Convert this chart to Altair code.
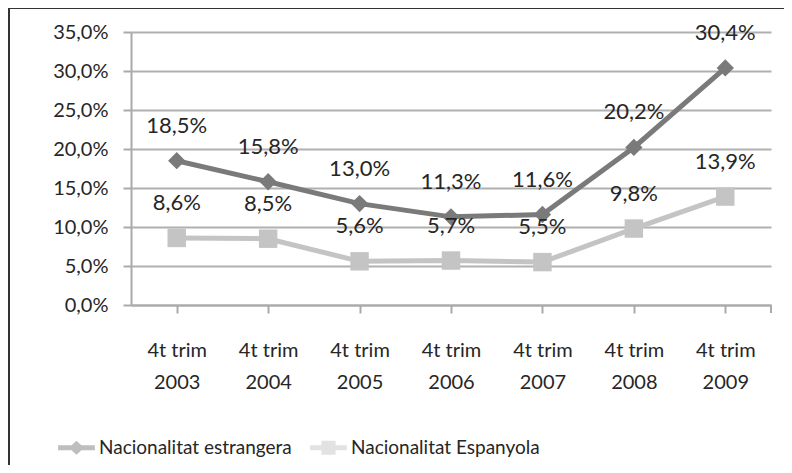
import altair as alt
import pandas as pd

periods = ["4t trim 2003", "4t trim 2004", "4t trim 2005", "4t trim 2006",
           "4t trim 2007", "4t trim 2008", "4t trim 2009"]
estrangera = [18.5, 15.8, 13.0, 11.3, 11.6, 20.2, 30.4]
espanyola = [8.6, 8.5, 5.6, 5.7, 5.5, 9.8, 13.9]
series_names = ["Nacionalitat estrangera", "Nacionalitat Espanyola"]
series_colors = ["#7a7a7a", "#c4c4c4"]
series_shapes = ["diamond", "square"]
y_ticks = [0, 5, 10, 15, 20, 25, 30, 35]

rows = []
for name, vals in zip(series_names, [estrangera, espanyola]):
    for p, v in zip(periods, vals):
        rows.append({"periode": p, "valor": v, "serie": name})
df = pd.DataFrame(rows)

FONT = "Lato"
TXT = "#262626"
W, H = 640, 273

x_enc = alt.X("periode:N", sort=periods, title=None,
              scale=alt.Scale(paddingInner=0, paddingOuter=0),
              axis=alt.Axis(labelAngle=0, bandPosition=0, tickSize=8,
                            labelPadding=27, labelLineHeight=32,
                            labelBaseline="top",
                            labelFont=FONT, labelFontSize=20, labelColor=TXT,
                            labelExpr="[slice(datum.label,0,7), slice(datum.label,8)]",
                            domainColor="#aaaaaa", tickColor="#aaaaaa",
                            domainWidth=2, tickWidth=2, grid=False))
y_enc = alt.Y("valor:Q", title=None,
              scale=alt.Scale(domain=[0, 35], nice=False),
              axis=alt.Axis(values=y_ticks, tickSize=8, labelPadding=15,
                            labelFont=FONT, labelFontSize=20, labelColor=TXT,
                            labelExpr="replace(format(datum.value, '.1f'), '.', ',') + '%'",
                            domainColor="#aaaaaa", tickColor="#aaaaaa",
                            domainWidth=2, tickWidth=2,
                            grid=True, gridColor="#b0b0b0", gridWidth=2))

base = alt.Chart(df)

series_layers = []
for name, col, shp in zip(series_names, series_colors, series_shapes):
    sub = base.transform_filter(alt.datum.serie == name)
    series_layers.append(sub.mark_line(strokeWidth=5, color=col).encode(x=x_enc, y=y_enc))
for name, col, shp in zip(series_names, series_colors, series_shapes):
    sub = base.transform_filter(alt.datum.serie == name)
    series_layers.append(sub.mark_point(shape=shp, filled=True, color=col, opacity=1,
                                        size=300 if shp == "diamond" else 340)
                         .encode(x=x_enc, y=y_enc))

labels = base.mark_text(dy=-35, fontSize=22, font=FONT, color=TXT).encode(
    x=x_enc, y=y_enc,
    text=alt.Text("label:N"),
).transform_calculate(
    label="replace(format(datum.valor, '.1f'), '.', ',') + '%'"
)

diamond_path = ("M-2.6,-0.35 L-0.7,-0.35 L0,-1 L0.7,-0.35 L2.6,-0.35 L2.6,0.35 "
                "L0.7,0.35 L0,1 L-0.7,0.35 L-2.6,0.35 Z")
square_path = ("M-2.6,-0.35 L-1,-0.35 L-1,-1 L1,-1 L1,-0.35 L2.6,-0.35 L2.6,0.35 "
               "L1,0.35 L1,1 L-1,1 L-1,0.35 L-2.6,0.35 Z")

legend_layer = base.transform_filter(alt.datum.valor < 0).mark_point(
    filled=True).encode(
    x=x_enc, y=y_enc,
    fill=alt.Fill("serie:N", scale=alt.Scale(domain=series_names, range=series_colors),
                  title=None,
                  legend=alt.Legend(orient="none", direction="horizontal",
                                    legendX=-64, legendY=406,
                                    symbolSize=200, symbolOpacity=1,
                                    symbolStrokeWidth=0,
                                    labelFontSize=19, labelFont=FONT,
                                    labelColor=TXT, labelOffset=13,
                                    columnPadding=18, labelLimit=400)),
    shape=alt.Shape("serie:N",
                    scale=alt.Scale(domain=series_names,
                                    range=[diamond_path, square_path])),
)

one = pd.DataFrame({"k": [0]})
border = alt.Chart(one).mark_rule(color="#333333", strokeWidth=2).encode(
    x=alt.value(-122), x2=alt.value(-122),
    y=alt.value(-24), y2=alt.value(H + 200),
)
border_top = alt.Chart(one).mark_rule(color="#333333", strokeWidth=2).encode(
    x=alt.value(-122), x2=alt.value(W + 40),
    y=alt.value(-24), y2=alt.value(-24),
)
end_tick = alt.Chart(one).mark_rule(color="#aaaaaa", strokeWidth=2).encode(
    x=alt.value(W), x2=alt.value(W),
    y=alt.value(H), y2=alt.value(H + 8),
)

chart = alt.layer(border, border_top, *series_layers, labels,
                  legend_layer, end_tick).properties(
    width=W, height=H,
    autosize=alt.AutoSizeParams(type="none"),
    padding={"left": 123, "top": 24, "right": 13, "bottom": 160},
    background="white",
).configure_view(stroke=None)

chart.save("out.html", embed_options={"renderer": "svg", "actions": False})
